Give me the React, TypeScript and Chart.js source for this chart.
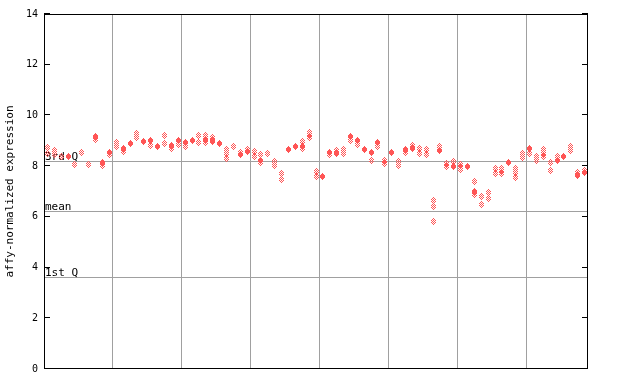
import React, { useEffect, useRef } from 'react';
import { Chart, registerables } from 'chart.js';
Chart.register(...registerables);

const RED = '#ff5555';
const GRID = '#a0a0a0';

const yTicks = [0, 2, 4, 6, 8, 10, 12, 14];
const groupBoundaries = [9.5, 19.5, 29.5, 39.5, 49.5, 59.5, 69.5];
const quartileLabels = ['3rd Q', 'mean', '1st Q'];
const quartileValues = [8.21, 6.23, 3.64];

// one entry per sample (79 samples)
const solidValues: (number | null)[] = [
  null, null, null, 8.37, null, null, null, 9.16, 8.15, 8.54,
  null, 8.70, 8.90, null, 8.96, 9.03, 8.77, null, 8.83, 9.03,
  8.92, 9.03, null, 9.06, 9.0, 8.90, null, null, 8.44, 8.57,
  null, 8.24, null, null, null, 8.64, 8.77, 8.77, null, null,
  7.58, 8.54, 8.50, null, 9.16, 9.0, 8.64, 8.53, 8.92, null,
  8.54, null, 8.64, 8.70, null, null, null, 8.60, null, 7.98,
  null, 8.0, 6.99, null, null, null, null, 8.15, null, null,
  8.70, null, null, null, 8.24, 8.37, null, 7.65, 7.74,
];

const hatchedA: (number | null)[] = [
  8.72, 8.60, 8.37, null, 8.07, 8.53, 8.07, 9.06, 8.04, 8.47,
  8.92, 8.57, null, 9.29, null, 8.83, null, 9.19, 8.70, 8.87,
  8.77, null, 9.19, 9.19, 9.14, null, 8.64, 8.79, 8.52, 8.66,
  8.57, 8.47, 8.50, 8.18, 7.71, null, null, 8.96, 9.32, 7.78,
  null, 8.44, 8.60, 8.66, 9.03, 8.87, null, 8.24, 8.79, 8.24,
  null, 8.18, 8.55, 8.83, 8.70, 8.64, 6.64, 8.77, 8.11, 8.18,
  8.07, null, 7.39, 6.80, 6.97, 7.91, 7.91, null, 7.91, 8.50,
  8.50, 8.40, 8.64, 8.15, 8.40, null, 8.77, 7.74, 7.82,
];

const hatchedB: (number | null)[] = [
  8.50, 8.44, null, null, null, null, null, null, null, null,
  8.77, null, null, 9.12, null, null, null, 8.90, null, null,
  null, null, 8.92, 8.92, 8.96, null, 8.50, null, null, null,
  8.40, 8.14, null, 8.04, 7.48, null, null, 8.70, 9.23, 7.61,
  null, null, null, 8.50, null, null, null, null, null, 8.11,
  null, 8.04, null, null, 8.50, 8.44, 6.39, null, 7.98, null,
  7.95, null, 6.88, 6.49, 6.73, 7.71, 7.82, null, 7.74, 8.35,
  null, 8.24, 8.48, 7.82, null, null, 8.61, null, null,
];

const hatchedC: (number | null)[] = [
  null, null, null, null, null, null, null, null, null, null,
  null, null, null, null, null, null, null, null, null, null,
  null, null, null, null, null, null, 8.31, null, null, null,
  null, null, null, null, null, null, null, null, 9.14, null,
  null, null, null, null, null, null, null, null, null, null,
  null, null, null, null, null, null, 5.81, null, null, null,
  7.85, null, null, null, null, null, 7.71, null, 7.56, null,
  null, null, 8.40, null, null, null, null, null, null,
];

const sampleCount = solidValues.length;

function makeDiamond(hatched: boolean): HTMLCanvasElement {
  const c = document.createElement('canvas');
  c.width = 5;
  c.height = 7;
  const ctx = c.getContext('2d')!;
  ctx.fillStyle = RED;
  const widths = [1, 3, 5, 5, 5, 3, 1];
  widths.forEach((w, row) => {
    const start = (5 - w) / 2;
    for (let col = start; col < start + w; col++) {
      if (!hatched || (col + row) % 2 === 0) ctx.fillRect(col, row, 1, 1);
    }
  });
  return c;
}

function toPoints(arr: (number | null)[]) {
  const out: { x: number; y: number }[] = [];
  arr.forEach((v, i) => {
    if (v !== null) out.push({ x: i, y: v });
  });
  return out;
}

const overlayPlugin = {
  id: 'overlay',
  beforeDatasetsDraw(chart: any) {
    const { ctx, chartArea, scales } = chart;
    const { left, right } = chartArea;
    const y = scales.y;
    ctx.save();
    ctx.strokeStyle = GRID;
    ctx.lineWidth = 1;
    quartileValues.forEach((v) => {
      const py = Math.round(y.getPixelForValue(v)) + 0.5;
      ctx.beginPath();
      ctx.moveTo(left, py);
      ctx.lineTo(right, py);
      ctx.stroke();
    });
    ctx.fillStyle = '#000';
    ctx.font = '11px "DejaVu Sans Mono"';
    ctx.textAlign = 'left';
    ctx.textBaseline = 'alphabetic';
    quartileValues.forEach((v, i) => {
      const py = Math.round(y.getPixelForValue(v));
      ctx.fillText(quartileLabels[i], left + 1, py - 1);
    });
    ctx.restore();
    ctx.save();
    ctx.imageSmoothingEnabled = false;
  },
  afterDatasetsDraw(chart: any) {
    chart.ctx.restore();
  },
  afterDraw(chart: any) {
    const { ctx, chartArea, scales } = chart;
    const { left, right, top, bottom } = chartArea;
    const y = scales.y;
    ctx.save();
    ctx.strokeStyle = '#000';
    ctx.lineWidth = 1;
    ctx.strokeRect(left + 0.5, top + 0.5, right - left - 1, bottom - top - 1);
    yTicks.forEach((v) => {
      const py = Math.round(y.getPixelForValue(v)) - 0.5;
      ctx.beginPath();
      ctx.moveTo(left, py);
      ctx.lineTo(left + 6, py);
      ctx.moveTo(right - 6, py);
      ctx.lineTo(right, py);
      ctx.stroke();
    });
    ctx.restore();
  },
};

export default function App() {
  const ref = useRef<HTMLCanvasElement | null>(null);
  useEffect(() => {
    document.body.style.margin = '0';
    const solidImg = makeDiamond(false);
    const hatchImg = makeDiamond(true);
    const common = { showLine: false, pointRadius: 3, pointHoverRadius: 3 };
    const chart = new Chart(ref.current!, {
      type: 'scatter',
      data: {
        datasets: [
          { ...common, label: 'solid', data: toPoints(solidValues), pointStyle: solidImg },
          { ...common, label: 'a', data: toPoints(hatchedA), pointStyle: hatchImg },
          { ...common, label: 'b', data: toPoints(hatchedB), pointStyle: hatchImg },
          { ...common, label: 'c', data: toPoints(hatchedC), pointStyle: hatchImg },
        ] as any,
      },
      options: {
        animation: false,
        responsive: false,
        maintainAspectRatio: false,
        layout: { padding: { left: 0, top: 14, right: 52, bottom: 15 } },
        plugins: { legend: { display: false }, tooltip: { enabled: false } },
        events: [],
        scales: {
          x: {
            type: 'linear',
            min: -0.5,
            max: sampleCount - 0.5,
            afterBuildTicks: (s: any) => {
              s.ticks = groupBoundaries.map((v) => ({ value: v }));
            },
            afterFit: (s: any) => {
              s.height = 0;
            },
            ticks: { display: false },
            grid: { color: GRID, drawTicks: false, lineWidth: 1 },
            border: { display: false },
          },
          y: {
            type: 'linear',
            min: 0,
            max: 14,
            afterBuildTicks: (s: any) => {
              s.ticks = yTicks.map((v) => ({ value: v }));
            },
            afterFit: (s: any) => {
              s.width = 44;
            },
            ticks: {
              color: '#000',
              padding: 6,
              font: { family: '"DejaVu Sans Mono"', size: 10 },
            },
            grid: { display: false, drawTicks: false },
            border: { display: false },
            title: {
              display: true,
              text: 'affy-normalized expression',
              color: '#000',
              font: { family: '"DejaVu Sans Mono"', size: 11 },
              padding: { top: 4, bottom: 0 },
            },
          },
        },
      },
      plugins: [overlayPlugin],
    });
    return () => chart.destroy();
  }, []);
  return <canvas ref={ref} width={640} height={384} style={{ display: 'block' }} />;
}
